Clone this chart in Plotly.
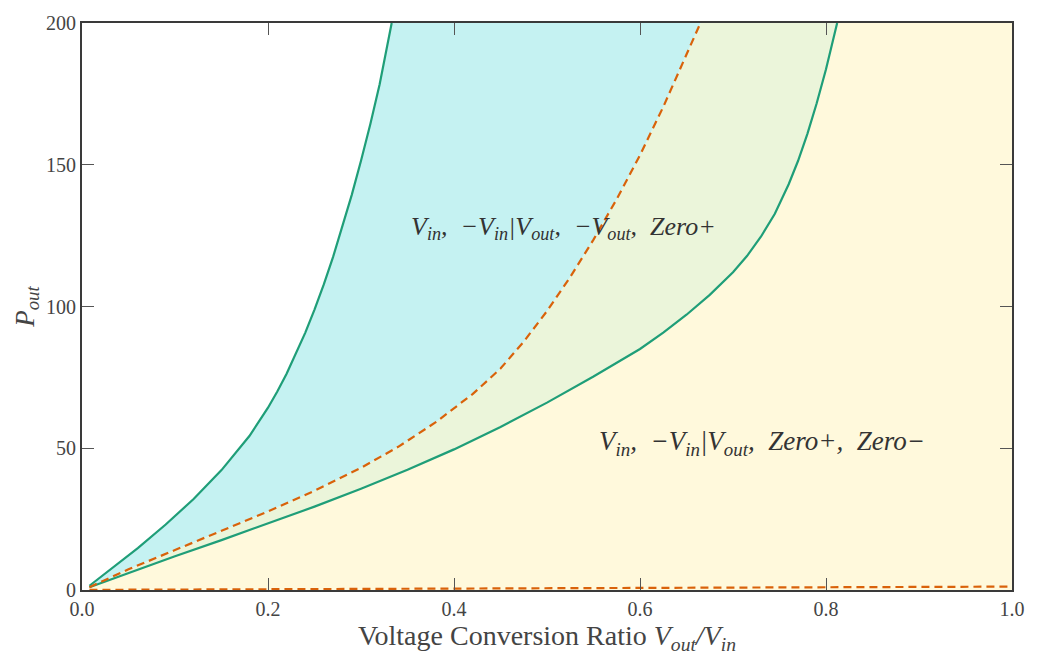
import plotly.graph_objects as go

# ---- data ----
r_upper = [0.008, 0.03, 0.06, 0.09, 0.12, 0.15, 0.18, 0.20, 0.21, 0.22, 0.23, 0.24, 0.25, 0.26,
           0.27, 0.28, 0.29, 0.30, 0.31, 0.32, 0.333]
p_upper = [1.5, 7.0, 14.8, 23.1, 32.1, 42.3, 54.3, 64.3, 70.0, 76.3, 83.2, 90.7, 98.9, 107.8,
           117.5, 128.0, 139.3, 151.4, 164.3, 178.3, 200.0]

r_mid = [0.008, 0.05, 0.1, 0.15, 0.2, 0.25, 0.3, 0.34, 0.38, 0.42, 0.45, 0.475, 0.5, 0.525,
         0.55, 0.575, 0.6, 0.625, 0.65, 0.665]
p_mid = [1.0, 7.3, 14.1, 20.8, 27.7, 35.0, 43.1, 50.5, 59.1, 69.1, 78.1, 87.6, 98.4, 110.4,
         123.6, 137.9, 153.4, 170.4, 188.9, 200.0]

r_lower = [0.008, 0.05, 0.1, 0.15, 0.2, 0.25, 0.3, 0.35, 0.4, 0.45, 0.5, 0.55, 0.6, 0.625,
           0.65, 0.675, 0.7, 0.715, 0.73, 0.745, 0.76, 0.77, 0.78, 0.79, 0.8, 0.812]
p_lower = [1.0, 6.1, 11.9, 17.6, 23.4, 29.4, 35.7, 42.4, 49.6, 57.5, 66.1, 75.3, 85.0, 90.8,
           97.1, 104.1, 112.1, 117.8, 124.6, 132.7, 143.2, 151.4, 160.9, 171.7, 183.7, 200.0]

r_bottom = [0.008, 0.2, 0.4, 0.6, 0.8, 1.0]
p_bottom = [0.05, 0.3, 0.5, 0.7, 0.95, 1.2]

x_range = [0.0, 1.0]
y_range = [0.0, 200.0]
x_ticks = [0.0, 0.2, 0.4, 0.6, 0.8, 1.0]
y_ticks = [0, 50, 100, 150, 200]

label_top = "<i>V<sub>in</sub>,  −V<sub>in</sub>|V<sub>out</sub>,  −V<sub>out</sub>,  Zero+</i>"
label_bottom = "<i>V<sub>in</sub>,  −V<sub>in</sub>|V<sub>out</sub>,  Zero+,  Zero−</i>"

GREEN = "#1f9e78"
ORANGE = "#d9620a"
CYAN_FILL = "#c5f2f2"
LGREEN_FILL = "#ebf5da"
YELLOW_FILL = "#fff9dc"
SERIF = "Liberation Serif"

fig = go.Figure()

ytop = y_range[1]
xmax = x_range[1]

# yellow region: below lower green curve
yx = [r_lower[0]] + r_lower + [xmax, xmax, r_lower[0]]
yy = [0] + p_lower + [ytop, 0, 0]
fig.add_trace(go.Scatter(x=yx, y=yy, fill="toself", fillcolor=YELLOW_FILL, mode="none",
                         hoverinfo="skip", showlegend=False))

# light green region: between middle dashed and lower green
gx = r_mid + r_lower[::-1]
gy = p_mid + p_lower[::-1]
fig.add_trace(go.Scatter(x=gx, y=gy, fill="toself", fillcolor=LGREEN_FILL, mode="none",
                         hoverinfo="skip", showlegend=False))

# cyan region: between upper green and middle dashed
cx = r_upper + r_mid[::-1]
cy = p_upper + p_mid[::-1]
fig.add_trace(go.Scatter(x=cx, y=cy, fill="toself", fillcolor=CYAN_FILL, mode="none",
                         hoverinfo="skip", showlegend=False))

# lines
fig.add_trace(go.Scatter(x=r_upper, y=p_upper, mode="lines", line=dict(color=GREEN, width=2.2),
                         showlegend=False))
fig.add_trace(go.Scatter(x=r_lower, y=p_lower, mode="lines", line=dict(color=GREEN, width=2.2),
                         showlegend=False))
fig.add_trace(go.Scatter(x=r_mid, y=p_mid, mode="lines", line=dict(color=ORANGE, width=2.2, dash="8px,5px"),
                         showlegend=False))
fig.add_trace(go.Scatter(x=r_bottom, y=p_bottom, mode="lines", line=dict(color=ORANGE, width=2.2, dash="8px,5px"),
                         showlegend=False))

fig.add_annotation(x=0.518, y=127.6, xref="x", yref="y", text=label_top, showarrow=False,
                   font=dict(family=SERIF, size=26, color="#333333"))
fig.add_annotation(x=0.7316, y=51.7, xref="x", yref="y", text=label_bottom, showarrow=False,
                   font=dict(family=SERIF, size=27, color="#333333"))

axis_common = dict(
    showgrid=False, zeroline=False, showline=True, linecolor="#3a3a3a", linewidth=2,
    mirror="ticks", ticks="inside", ticklen=12, tickwidth=1, tickcolor="#555555",
    tickfont=dict(family=SERIF, size=20, color="#444444"),
)

fig.update_xaxes(range=x_range, tickvals=x_ticks, ticktext=[f"{v:.1f}" for v in x_ticks],
                 title=dict(text="Voltage Conversion Ratio <i>V<sub>out</sub>/V<sub>in</sub></i>",
                            font=dict(family=SERIF, size=28, color="#444444"), standoff=5),
                 **axis_common)
fig.update_yaxes(range=y_range, tickvals=y_ticks, ticktext=[str(v) for v in y_ticks],
                 title=dict(text="<i>P<sub>out</sub></i>",
                            font=dict(family=SERIF, size=27, color="#444444"), standoff=4),
                 **axis_common)

fig.update_layout(
    width=1037, height=657,
    margin=dict(l=82, r=18, t=17, b=63),
    plot_bgcolor="white", paper_bgcolor="white",
)

fig.write_html("out.html")
